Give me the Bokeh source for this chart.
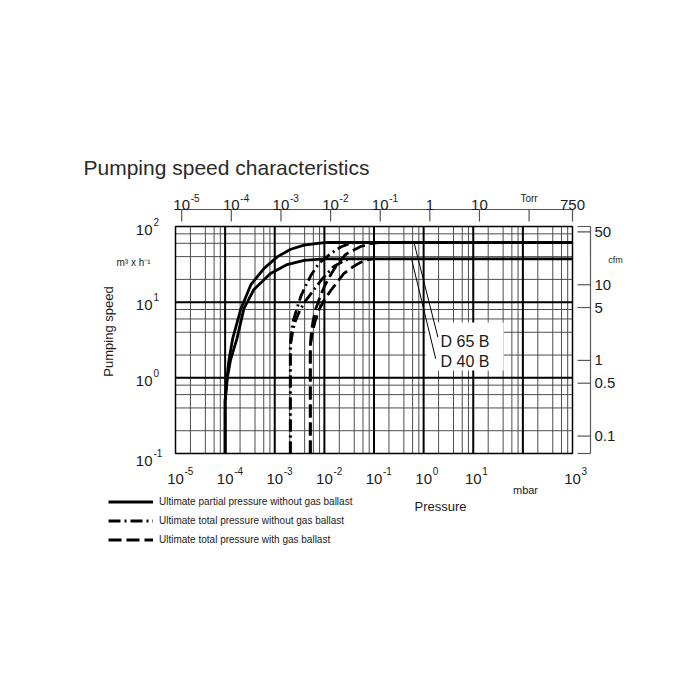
from math import pi
from bokeh.plotting import figure
from bokeh.models import (Range1d, LogScale, LinearScale, Label, Arrow, ColumnDataSource,
                          Legend, LegendItem)
from bokeh.embed import file_html
from bokeh.resources import INLINE

# ---------------- data (pressure in mbar, pumping speed in m3/h) ----------------
MBAR_PER_TORR = 1.33322
CFM_PER_M3H = 0.588578

d65_partial_p = [1.0e-4, 1.0e-4, 1.09e-4, 1.19e-4, 1.42e-4, 2.08e-4, 3.3e-4, 6.1e-4,
                 1.14e-3, 2.1e-3, 3.9e-3, 7.3e-3, 1.15e-2, 1.0e3]
d65_partial_s = [0.1, 0.5, 1.0, 1.7, 3.3, 8.2, 17.0, 28.0, 40.0, 50.0, 56.6, 60.0, 61.5, 61.5]

d40_partial_p = [1.0e-4, 1.0e-4, 1.11e-4, 1.28e-4, 1.73e-4, 2.39e-4, 3.8e-4, 8.2e-4,
                 1.78e-3, 3.9e-3, 1.0e-2, 1.0e3]
d40_partial_s = [0.1, 0.5, 1.0, 1.7, 3.3, 8.2, 14.7, 23.9, 31.4, 35.6, 37.4, 37.4]

d65_total_p = [2.06e-3, 2.06e-3, 2.16e-3, 2.31e-3, 2.79e-3, 3.35e-3, 4.04e-3, 5.33e-3,
               7.71e-3, 1.35e-2, 2.14e-2, 3.4e-2, 5.4e-2]
d65_total_s = [0.1, 2.67, 3.85, 5.4, 8.2, 11.9, 15.6, 22.5, 32.4, 44.0, 53.6, 60.5, 61.5]

d40_total_p = [2.06e-3, 2.06e-3, 2.26e-3, 2.54e-3, 3.2e-3, 4.22e-3, 5.58e-3, 8.82e-3,
               1.54e-2, 2.68e-2, 3.72e-2]
d40_total_s = [0.1, 2.67, 3.85, 5.4, 7.8, 10.5, 13.4, 19.9, 29.6, 36.1, 37.4]

d65_ballast_p = [5.2e-3, 5.2e-3, 5.44e-3, 5.84e-3, 6.72e-3, 8.08e-3, 1.02e-2, 1.35e-2,
                 1.86e-2, 2.68e-2, 3.72e-2, 5.4e-2, 8.6e-2, 0.136]
d65_ballast_s = [0.1, 2.67, 3.85, 5.4, 8.2, 11.5, 16.6, 23.2, 32.4, 42.7, 48.2, 54.4, 59.6, 61.5]

d40_ballast_p = [5.2e-3, 5.2e-3, 5.71e-3, 6.41e-3, 7.71e-3, 9.73e-3, 1.35e-2, 1.86e-2,
                 2.46e-2, 3.4e-2, 4.49e-2, 6.5e-2, 9.4e-2]
d40_ballast_s = [0.1, 2.67, 3.85, 5.4, 7.8, 10.5, 14.3, 18.8, 23.9, 27.9, 31.5, 35.6, 37.4]

# ticks / labels
X_MIN, X_MAX = 1e-5, 1e3          # mbar
Y_MIN, Y_MAX = 0.1, 100.0         # m3/h
mbar_label_exps = [-5, -4, -3, -2, -1, 0, 1, 3]
speed_label_exps = [-1, 0, 1, 2]
torr_ticks = [1e-5, 1e-4, 1e-3, 1e-2, 1e-1, 1, 10, 100, 750]
torr_exp_labels = [(1e-5, "-5"), (1e-4, "-4"), (1e-3, "-3"), (1e-2, "-2"), (1e-1, "-1")]
torr_plain_labels = [(1, "1"), (10, "10"), (750, "750")]
cfm_ticks = [50, 10, 5, 1, 0.5, 0.1]
cfm_labels = ["50", "10", "5", "1", "0.5", "0.1"]
grid_mults = [2, 4, 6, 8]
x_decades = [1e-5, 1e-4, 1e-3, 1e-2, 1e-1, 1, 10, 100]
y_decades = [0.1, 1, 10]
x_major = [1e-4, 1e-3, 1e-2, 1e-1, 1, 10, 100]
y_major = [1, 10]

model_names = ["D 65 B", "D 40 B"]
model_plateau = [61.5, 37.4]
leader_x0 = [0.64, 0.57]
leader_x1 = [1.94, 1.75]
leader_y1 = [3.44, 1.79]
name_x = [2.2, 2.2]
name_y = [3.02, 1.64]

legend_texts = ["Ultimate partial pressure without gas ballast",
                "Ultimate total pressure without gas ballast",
                "Ultimate total pressure with gas ballast"]

# ---------------- layout (page pixels) ----------------
FONT = "Liberation Sans"
TXT = "#1a1a1a"
AX = "#555555"
W, H = 696, 696
GX0, GX1, GY0, GY1 = 175.0, 572.0, 226.0, 453.0   # chart box on the page
DX = (GX1 - GX0) / 8.0
DY = (GY1 - GY0) / 3.0

xr = Range1d(10 ** (-5 - GX0 / DX), 10 ** (3 + (W - GX1) / DX))
yr = Range1d(10 ** (-1 - (H - GY1) / DY), 10 ** (2 + GY0 / DY))

p = figure(width=W, height=H, x_axis_type="log", y_axis_type="log",
           x_range=xr, y_range=yr,
           x_axis_location=None, y_axis_location=None,
           toolbar_location=None, output_backend="svg",
           min_border=0, background_fill_color="white", border_fill_color="white")
p.outline_line_color = None
p.grid.visible = False

p.extra_x_ranges = {"torr": Range1d(xr.start / MBAR_PER_TORR, xr.end / MBAR_PER_TORR),
                    "px": Range1d(0, W)}
p.extra_x_scales = {"torr": LogScale(), "px": LinearScale()}
p.extra_y_ranges = {"cfm": Range1d(yr.start * CFM_PER_M3H, yr.end * CFM_PER_M3H),
                    "py": Range1d(H, 0)}
p.extra_y_scales = {"cfm": LogScale(), "py": LinearScale()}

# grid lines
x_minor = [m * d for d in x_decades for m in grid_mults]
y_minor = [m * d for d in y_decades for m in grid_mults]
p.segment(x0=x_minor, x1=x_minor, y0=[Y_MIN] * len(x_minor), y1=[Y_MAX] * len(x_minor),
          line_color="#4d4d4d", line_width=1)
p.segment(x0=[X_MIN] * len(y_minor), x1=[X_MAX] * len(y_minor), y0=y_minor, y1=y_minor,
          line_color="#4d4d4d", line_width=1)
p.segment(x0=x_major, x1=x_major, y0=[Y_MIN] * len(x_major), y1=[Y_MAX] * len(x_major),
          line_color="black", line_width=2)
p.segment(x0=[X_MIN] * len(y_major), x1=[X_MAX] * len(y_major), y0=y_major, y1=y_major,
          line_color="black", line_width=2)

# white box behind the model names
p.quad(left=[1.1], right=[41], bottom=[1.25], top=[5.4], fill_color="white", line_color=None)

# chart frame
p.quad(left=[X_MIN], right=[X_MAX], bottom=[Y_MIN], top=[Y_MAX], fill_color=None,
       line_color="black", line_width=1.5)

# leader lines
p.segment(x0=leader_x0, y0=model_plateau, x1=leader_x1, y1=leader_y1,
          line_color="black", line_width=1)

# curves
LW = 2.8
r_partial = p.line(d65_partial_p, d65_partial_s, line_color="black", line_width=LW, line_join="round")
p.line(d40_partial_p, d40_partial_s, line_color="black", line_width=LW, line_join="round")
r_total = p.line(d65_total_p, d65_total_s, line_color="black", line_width=LW, line_dash="12 4 2 4")
p.line(d40_total_p, d40_total_s, line_color="black", line_width=LW, line_dash="12 4 2 4")
r_ballast = p.line(d65_ballast_p, d65_ballast_s, line_color="black", line_width=LW, line_dash="13 5")
p.line(d40_ballast_p, d40_ballast_s, line_color="black", line_width=LW, line_dash="13 5")

for nm, nx, ny in zip(model_names, name_x, name_y):
    p.add_layout(Label(x=nx, y=ny, text=nm, text_font=FONT, text_font_size="16px",
                       text_color=TXT, text_baseline="middle", text_align="left"))

# legend (location: left, bottom in pixels from the canvas' bottom-left)
legend = Legend(items=[LegendItem(label=legend_texts[0], renderers=[r_partial]),
                       LegendItem(label=legend_texts[1], renderers=[r_total]),
                       LegendItem(label=legend_texts[2], renderers=[r_ballast])],
                location=(108, H - 545.5), orientation="vertical",
                border_line_color=None, background_fill_alpha=0,
                padding=0, margin=0, spacing=6,
                glyph_width=45, glyph_height=13, label_height=13, label_standoff=6,
                label_text_font=FONT, label_text_font_size="10px", label_text_color=TXT)
p.add_layout(legend)

# ---------------- title and axis texts ----------------
def lab(**kw):
    base = dict(text_font=FONT, text_color=TXT)
    base.update(kw)
    p.add_layout(Label(**base))

lab(x=83, y=167, x_range_name="px", y_range_name="py", text="Pumping speed characteristics",
    text_font_size="21px", text_color="#2a2a2a", text_align="left", text_baseline="alphabetic")

# bottom mbar labels
for e in mbar_label_exps:
    lab(x=10.0 ** e, y=478, y_range_name="py", text="10", text_font_size="15px",
        text_align="center", text_baseline="alphabetic")
    lab(x=10.0 ** e, y=470, y_range_name="py", x_offset=9, text=str(e), text_font_size="10px",
        text_align="left", text_baseline="alphabetic")
lab(x=525, y=489.5, x_range_name="px", y_range_name="py", text="mbar",
    text_font_size="11px", text_align="center", text_baseline="alphabetic")
lab(x=440, y=505.5, x_range_name="px", y_range_name="py", text="Pressure",
    text_font_size="13px", text_align="center", text_baseline="alphabetic")

# left speed labels
for e in speed_label_exps:
    off = -7 if e == -1 else -3
    lab(x=152, y=10.0 ** e, x_range_name="px", y_offset=off, text="10", text_font_size="15px",
        text_align="right", text_baseline="alphabetic")
    lab(x=153, y=10.0 ** e, x_range_name="px", y_offset=off + 8, text=str(e),
        text_font_size="10px", text_align="left", text_baseline="alphabetic")
lab(x=133, y=262, x_range_name="px", y_range_name="py", text="m³ x h⁻¹",
    text_font_size="10px", text_align="center", text_baseline="middle")
lab(x=108, y=331, x_range_name="px", y_range_name="py", text="Pumping speed", angle=pi / 2,
    text_font_size="13px", text_align="center", text_baseline="middle")

# top Torr axis
n = len(torr_ticks)
p.add_layout(Arrow(end=None, x_start=GX0 + 1, y_start=209, x_end=GX1, y_end=209,
                   x_range_name="px", y_range_name="py", line_color=AX, line_width=1.2))
p.add_layout(Arrow(end=None, x_start="x", y_start="y0", x_end="x", y_end="y1",
                   source=ColumnDataSource(dict(x=torr_ticks, y0=[209] * n, y1=[221] * n)),
                   x_range_name="torr", y_range_name="py", line_color=AX, line_width=1.2))
for t, ex in torr_exp_labels:
    lab(x=t, y=204, x_range_name="torr", y_range_name="py", text="10",
        text_font_size="15px", text_align="center", text_baseline="alphabetic")
    lab(x=t, y=197, x_range_name="torr", y_range_name="py", x_offset=9, text=ex,
        text_font_size="10px", text_align="left", text_baseline="alphabetic")
for t, s in torr_plain_labels:
    lab(x=t, y=204, x_range_name="torr", y_range_name="py", text=s,
        text_font_size="15px", text_align="center", text_baseline="alphabetic")
lab(x=100, y=198, x_range_name="torr", y_range_name="py", text="Torr",
    text_font_size="10px", text_align="center", text_baseline="alphabetic")

# right cfm axis
m = len(cfm_ticks)
p.add_layout(Arrow(end=None, x_start=590, y_start=GY0, x_end=590, y_end=GY1,
                   x_range_name="px", y_range_name="py", line_color=AX, line_width=1.2))
p.add_layout(Arrow(end=None, x_start="x0", y_start="y", x_end="x1", y_end="y",
                   source=ColumnDataSource(dict(x0=[577] * 2, x1=[590] * 2, y=[GY0, GY1])),
                   x_range_name="px", y_range_name="py", line_color=AX, line_width=1.2))
p.add_layout(Arrow(end=None, x_start="x0", y_start="y", x_end="x1", y_end="y",
                   source=ColumnDataSource(dict(x0=[577] * m, x1=[590] * m, y=cfm_ticks)),
                   x_range_name="px", y_range_name="cfm", line_color=AX, line_width=1.2))
for v, s in zip(cfm_ticks, cfm_labels):
    lab(x=594, y=v, x_range_name="px", y_range_name="cfm", text=s,
        text_font_size="15px", text_align="left", text_baseline="middle")
lab(x=615, y=259, x_range_name="px", y_range_name="py", text="cfm",
    text_font_size="9px", text_align="center", text_baseline="middle")

open("out.html", "w").write(file_html(p, INLINE))
